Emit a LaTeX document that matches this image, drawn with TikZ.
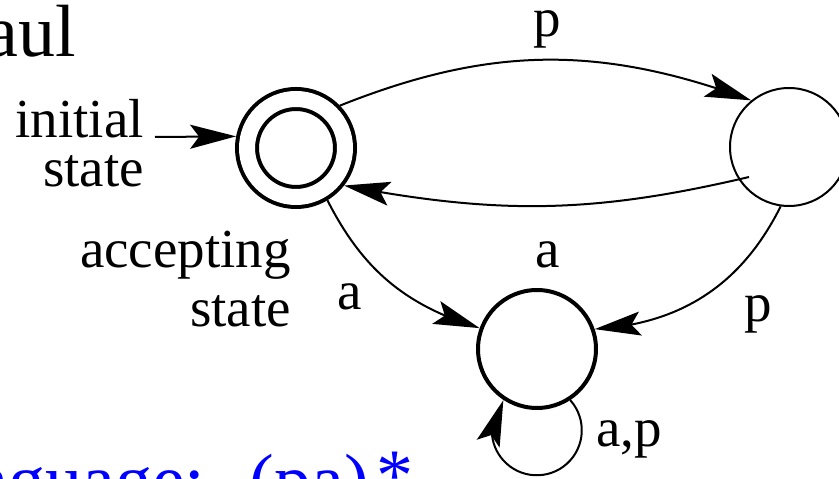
\documentclass[tikz,border=0pt]{standalone}
\usepackage{fontspec}
\setmainfont{Liberation Serif}
\usetikzlibrary{arrows.meta,bending}
\begin{document}
\begin{tikzpicture}[x=1pt,y=1pt,
  stateS/.style={circle, draw, line width=4pt, double, double distance=16pt, minimum size=98pt, inner sep=0pt, outer sep=12pt},
  stateA/.style={circle, draw, line width=4pt, minimum size=118pt, inner sep=0pt},
  stateB/.style={circle, draw, line width=2pt, minimum size=118pt, inner sep=0pt},
  edge/.style={line width=2pt, -{Stealth[length=46pt,width=24pt,inset=9pt]}},
  lab/.style={inner sep=0pt, font=\fontsize{55}{60}\selectfont},
  big/.style={inner sep=0pt, font=\fontsize{74}{80}\selectfont}]
\useasboundingbox (0,0) rectangle (839,479);
% states
\node[stateS] (S) at (296,331) {};
\node[stateB] (R) at (789,332) {};
\node[stateA] (B) at (537,130) {};
% texts
\node[big, anchor=base east] (title) at (76.5,422) {Paul};
\node[big, anchor=base west, text=blue] (lang) at (-107,-27) {Language:\hspace{0.6em}(pa)\hspace{0.1em}\raisebox{0.08em}{*}};
\node[lab, anchor=base east] (init1) at (144,341) {initial};
\node[lab, anchor=base east] (init2) at (144,292) {state};
\node[lab, anchor=base east] (acc1) at (291,211) {accepting};
\node[lab, anchor=base east] (acc2) at (291,152) {state};
% edges
\coordinate (ia) at (155,342);
\coordinate (Rin) at (749,302);
\draw[edge] (ia) -- (S.169.6);
\draw[edge] (S.44) to[bend left=21] (R.129);
\draw[edge] (Rin) to[bend left=12] (S.-38);
\draw[edge] (S.-59) to[bend right=23] (B.160);
\draw[edge] (R.-98) to[bend left=30] (B.19);
\draw[edge] (B.-57) arc[start angle=42, end angle=-222, radius=45];
% edge labels
\node[lab, anchor=base] (lp1) at (547,442) {p};
\node[lab, anchor=base] (la1) at (548,211) {a};
\node[lab, anchor=base] (la2) at (350,169) {a};
\node[lab, anchor=base] (lp2) at (758,157) {p};
\node[lab, anchor=base west] (lap) at (596,32) {a,p};
\end{tikzpicture}
\end{document}
